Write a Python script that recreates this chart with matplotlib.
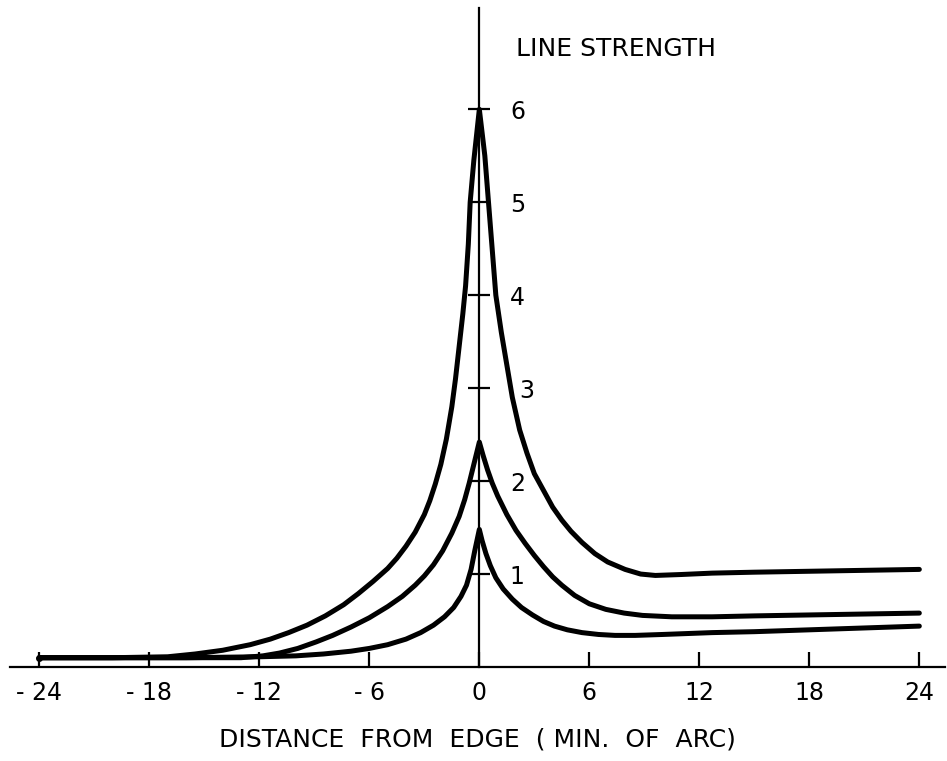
import matplotlib.pyplot as plt
from matplotlib.transforms import ScaledTranslation

# distance from edge (minutes of arc) and line strength for the three profiles
top_x = [-24, -20, -17, -15.5, -14, -12.5, -11.4, -10.4, -9.4, -8.4, -7.4, -6.6,
         -5.8, -5.0, -4.5, -4.0, -3.5, -3.0, -2.7, -2.4, -2.1, -1.8, -1.5, -1.3,
         -1.1, -0.9, -0.75, -0.6, -0.5, -0.3, 0,
         0.3, 0.5, 0.7, 0.9, 1.2, 1.5, 1.8, 2.2, 2.6, 3.0, 3.5, 4.0, 4.5, 5.0,
         5.6, 6.3, 7.0, 7.95, 8.8, 9.6, 11, 12.7, 15, 18, 21, 24]
top_y = [0.1, 0.1, 0.11, 0.14, 0.18, 0.24, 0.3, 0.37, 0.45, 0.55, 0.67, 0.79,
         0.92, 1.06, 1.17, 1.3, 1.45, 1.64, 1.79, 1.97, 2.18, 2.45, 2.8, 3.1,
         3.45, 3.8, 4.1, 4.55, 5.0, 5.45, 6.0,
         5.5, 5.0, 4.5, 4.0, 3.6, 3.25, 2.9, 2.55, 2.3, 2.08, 1.9, 1.72, 1.58, 1.46,
         1.34, 1.22, 1.13, 1.05, 1.0, 0.985, 0.995, 1.01, 1.02, 1.03, 1.04, 1.05]

mid_x = [-24, -16, -13, -11.8, -10.9, -9.9, -8.9, -8.0, -7.0, -6.0, -5.0, -4.2,
         -3.5, -3.0, -2.5, -2.0, -1.5, -1.1, -0.8, -0.55, -0.35, -0.15, 0,
         0.2, 0.45, 0.7, 1.0, 1.5, 2.0, 2.5, 3.0, 3.5, 4.0, 4.5, 5.2,
         6.0, 6.9, 7.9, 8.9, 10.5, 12.7, 15, 18, 21, 24]
mid_y = [0.1, 0.1, 0.1, 0.12, 0.15, 0.2, 0.27, 0.34, 0.43, 0.53, 0.65, 0.76,
         0.88, 0.98, 1.1, 1.25, 1.44, 1.62, 1.8, 1.98, 2.14, 2.3, 2.42,
         2.28, 2.12, 1.98, 1.84, 1.64, 1.47, 1.33, 1.2, 1.08, 0.97, 0.88, 0.77,
         0.68, 0.62, 0.58, 0.555, 0.54, 0.54, 0.55, 0.56, 0.57, 0.58]

low_x = [-24, -16, -12, -10, -8.5, -7, -6, -5, -4, -3.2, -2.5, -1.9, -1.4, -1.0,
         -0.7, -0.45, -0.25, 0,
         0.15, 0.36, 0.6, 0.9, 1.3, 1.8, 2.3, 2.9, 3.5, 4.1, 4.8, 5.6, 6.5, 7.4,
         8.5, 10, 12.7, 15, 18, 21, 24]
low_y = [0.1, 0.1, 0.11, 0.12, 0.14, 0.17, 0.2, 0.24, 0.3, 0.37, 0.45, 0.54, 0.64,
         0.76, 0.88, 1.05, 1.25, 1.48,
         1.36, 1.22, 1.09, 0.96, 0.84, 0.73, 0.64, 0.56, 0.49, 0.44, 0.4, 0.37,
         0.35, 0.34, 0.34, 0.35, 0.37, 0.38, 0.4, 0.42, 0.44]

x_ticks = [-24, -18, -12, -6, 0, 6, 12, 18, 24]
x_labels = ['- 24', '- 18', '- 12', '- 6', '0', '6', '12', '18', '24']
y_ticks = [1, 2, 3, 4, 5, 6]

fig = plt.figure(figsize=(9.47, 7.61), dpi=100)
ax = fig.add_axes([10 / 947, 94 / 761, 935 / 947, 659 / 761])

for xs, ys in [(top_x, top_y), (mid_x, mid_y), (low_x, low_y)]:
    ax.plot(xs, ys, color='black', lw=3.6, solid_joinstyle='round',
            solid_capstyle='round')
ax.plot([-24], [0.1], 'o', color='black', ms=4)

ax.set_xlim(-25.6, 25.4)
ax.set_ylim(0, 7.09)

# vertical axis runs through x = 0 with labels on its right side
ax.spines['left'].set_visible(False)
ax.spines['top'].set_visible(False)
ax.spines['right'].set_position(('data', 0))
ax.spines['right'].set_linewidth(1.6)
ax.spines['bottom'].set_linewidth(1.6)
ax.yaxis.set_ticks_position('right')

ax.set_xticks(x_ticks)
ax.set_xticklabels(x_labels, fontsize=17)
ax.tick_params(axis='x', direction='in', length=11, width=1.6, pad=10)
ax.set_yticks(y_ticks)
ax.set_yticklabels([str(v) for v in y_ticks], fontsize=17)
ax.tick_params(axis='y', direction='inout', length=16, width=1.6, pad=14)

# the "3" sits a little further out, clear of the top curve
for lbl in ax.get_yticklabels():
    if lbl.get_text() == '3':
        lbl.set_transform(lbl.get_transform() + ScaledTranslation(0.09, 0, fig.dpi_scale_trans))

ax.set_xlabel('DISTANCE  FROM  EDGE  ( MIN.  OF  ARC)', fontsize=18, labelpad=16)
ax.text(2.0, 6.65, 'LINE STRENGTH', fontsize=18, ha='left', va='center')

plt.savefig('out.png', dpi=100)
